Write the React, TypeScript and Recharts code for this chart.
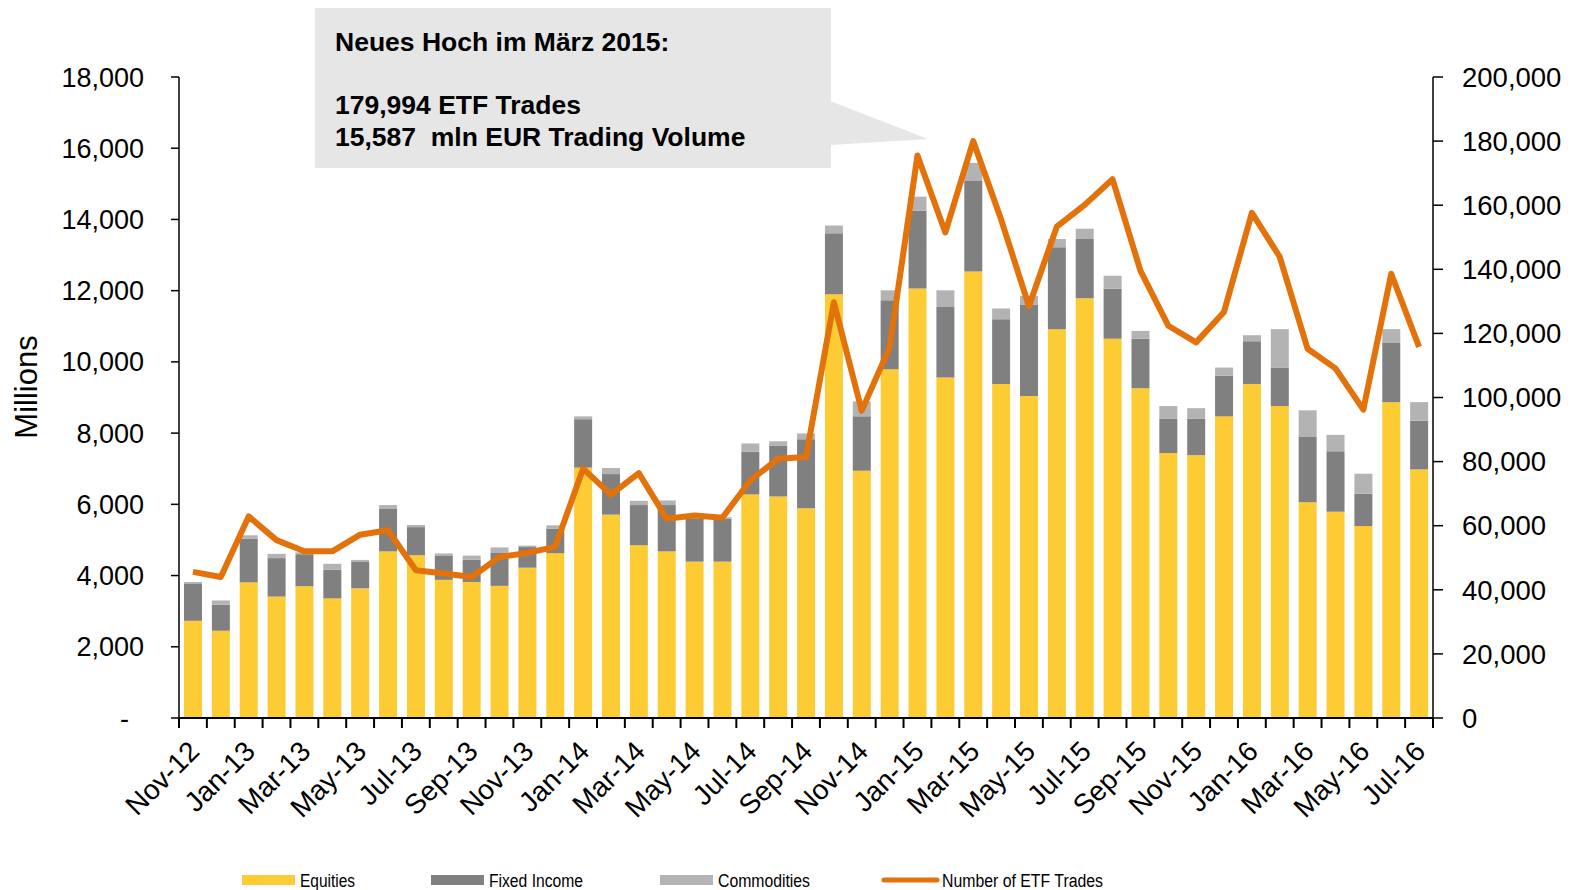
import { Bar, ComposedChart, Line, XAxis, YAxis } from "recharts"

const months = [
  "Nov-12", "Dec-12", "Jan-13", "Feb-13", "Mar-13", "Apr-13", "May-13", "Jun-13", "Jul-13", "Aug-13",
  "Sep-13", "Oct-13", "Nov-13", "Dec-13", "Jan-14", "Feb-14", "Mar-14", "Apr-14", "May-14", "Jun-14",
  "Jul-14", "Aug-14", "Sep-14", "Oct-14", "Nov-14", "Dec-14", "Jan-15", "Feb-15", "Mar-15", "Apr-15",
  "May-15", "Jun-15", "Jul-15", "Aug-15", "Sep-15", "Oct-15", "Nov-15", "Dec-15", "Jan-16", "Feb-16",
  "Mar-16", "Apr-16", "May-16", "Jun-16", "Jul-16",
]

// mln EUR
const equities = [
  2730, 2450, 3810, 3410, 3700, 3360, 3640, 4680, 4570, 3880,
  3820, 3710, 4220, 4630, 7030, 5710, 4850, 4680, 4390, 4390,
  6280, 6220, 5890, 11900, 6940, 9790, 12060, 9560, 12540, 9380,
  9040, 10920, 11790, 10650, 9260, 7440, 7380, 8470, 9380, 8760,
  6060, 5790, 5390, 8870, 6980,
]
const fixedIncome = [
  1050, 730, 1220, 1080, 900, 800, 740, 1190, 790, 670,
  620, 940, 580, 680, 1360, 1140, 1130, 1300, 1200, 1210,
  1200, 1430, 1940, 1710, 1530, 1940, 2180, 1980, 2540, 1820,
  2560, 2300, 1660, 1410, 1390, 960, 1020, 1140, 1200, 1070,
  1830, 1700, 910, 1660, 1370,
]
const commodities = [
  40, 120, 100, 120, 50, 170, 60, 110, 60, 70,
  120, 140, 40, 100, 80, 170, 120, 130, 50, 40,
  230, 120, 160, 220, 420, 280, 400, 470, 507, 300,
  250, 230, 290, 360, 220, 360, 300, 230, 170, 1090,
  750, 460, 560, 390, 520,
]
// number of ETF trades
const trades = [
  45600, 44000, 62900, 55500, 52000, 52000, 57200, 58600, 46100, 45100,
  44000, 50200, 51500, 53400, 77800, 69700, 76400, 62200, 63200, 62500,
  74100, 80900, 81400, 129700, 95900, 115600, 175500, 151500, 179994, 155600,
  128500, 153300, 160100, 168100, 139600, 122400, 117200, 126700, 157600, 143900,
  115200, 109100, 96200, 138600, 115800,
]

const volumeTicks = [0, 2000, 4000, 6000, 8000, 10000, 12000, 14000, 16000, 18000]
const tradeTicks = [0, 20000, 40000, 60000, 80000, 100000, 120000, 140000, 160000, 180000, 200000]

const calloutLines = ["Neues Hoch im März 2015:", "", "179,994 ETF Trades", "15,587\u00a0 mln EUR Trading Volume"]

const legendItems = [
  { name: "Equities", color: "#FDCB33", kind: "bar", x: 242, len: 55 },
  { name: "Fixed Income", color: "#808080", kind: "bar", x: 431, len: 94 },
  { name: "Commodities", color: "#B3B3B3", kind: "bar", x: 660, len: 92 },
  { name: "Number of ETF Trades", color: "#E3720B", kind: "line", x: 884, len: 161 },
]

const W = 1573
const H = 890
const PLOT_LEFT = 179
const PLOT_RIGHT = 1433
const FONT = "'Liberation Sans', Arial, sans-serif"

const data = months.map((month, i) => ({
  month,
  equities: equities[i],
  fixedIncome: fixedIncome[i],
  commodities: commodities[i],
  trades: trades[i],
}))

const band = (PLOT_RIGHT - PLOT_LEFT) / months.length
const fmt = (v: number) => v.toLocaleString("en-US")

function MonthTick(props: any) {
  const { x, y, payload, index } = props
  const lx = x + 8
  const ly = y + 35
  return (
    <g>
      <line x1={x - band / 2} x2={x - band / 2} y1={y} y2={y + 10} stroke="#000" strokeWidth={2} />
      {index === months.length - 1 && (
        <line x1={x + band / 2} x2={x + band / 2} y1={y} y2={y + 10} stroke="#000" strokeWidth={2} />
      )}
      {index % 2 === 0 && (
        <text
          x={lx}
          y={ly}
          transform={`rotate(-45 ${lx} ${ly})`}
          textAnchor="end"
          fontSize={28}
          fontFamily={FONT}
          fill="#000"
        >
          {payload.value}
        </text>
      )}
    </g>
  )
}

export default function App() {
  return (
    <div style={{ position: "absolute", left: 0, top: 0, width: W, height: H, background: "#fff", fontFamily: FONT }}>
      <ComposedChart width={W} height={H} data={data} margin={{ top: 77, right: 0, left: 0, bottom: 0 }} barSize={18}>
        <XAxis
          dataKey="month"
          height={172}
          interval={0}
          tickSize={0}
          tickMargin={0}
          tickLine={false}
          axisLine={{ stroke: "#000", strokeWidth: 2 }}
          tick={<MonthTick />}
        />
        <YAxis
          yAxisId="left"
          width={179}
          domain={[0, 18000]}
          ticks={volumeTicks}
          tickSize={8}
          tickMargin={27}
          axisLine={{ stroke: "#000", strokeWidth: 1.5 }}
          tickLine={{ stroke: "#000", strokeWidth: 1.5 }}
          tick={{ fill: "#000", fontSize: 27, fontFamily: FONT }}
          tickFormatter={(v: number) => (v === 0 ? "-\u00a0\u00a0" : fmt(v))}
          label={{
            content: () => (
              <text x={37} y={387} transform="rotate(-90 37 387)" textAnchor="middle" fontSize={31} fontFamily={FONT} fill="#000">
                Millions
              </text>
            ),
          }}
        />
        <YAxis
          yAxisId="right"
          orientation="right"
          width={140}
          domain={[0, 200000]}
          ticks={tradeTicks}
          tickSize={10}
          tickMargin={19}
          axisLine={{ stroke: "#000", strokeWidth: 1.5 }}
          tickLine={{ stroke: "#000", strokeWidth: 1.5 }}
          tick={{ fill: "#000", fontSize: 27.5, fontFamily: FONT, textAnchor: "start" }}
          tickFormatter={(v: number) => fmt(v)}
        />
        <Bar yAxisId="left" dataKey="equities" name="Equities" stackId="v" fill="#FDCB33" isAnimationActive={false} />
        <Bar yAxisId="left" dataKey="fixedIncome" name="Fixed Income" stackId="v" fill="#808080" isAnimationActive={false} />
        <Bar yAxisId="left" dataKey="commodities" name="Commodities" stackId="v" fill="#B3B3B3" isAnimationActive={false} />
        <Line
          yAxisId="right"
          dataKey="trades"
          name="Number of ETF Trades"
          type="linear"
          stroke="#E3720B"
          strokeWidth={6}
          strokeLinejoin="round"
          dot={false}
          activeDot={false}
          isAnimationActive={false}
        />
      </ComposedChart>

      <svg width={W} height={H} style={{ position: "absolute", left: 0, top: 0, pointerEvents: "none" }}>
        {/* callout */}
        <rect x={315} y={8} width={516} height={160} fill="#E6E6E6" />
        <polygon points="830,101 928,139 830,145" fill="#E6E6E6" />
        {calloutLines.map((t, i) =>
          t ? (
            <text key={i} x={335} y={51 + i * 31.7} fontSize={26.5} fontWeight="bold" fontFamily={FONT} fill="#000">
              {t}
            </text>
          ) : null
        )}

        {/* legend */}
        {legendItems.map((it) => (
          <g key={it.name}>
            {it.kind === "bar" ? (
              <rect x={it.x} y={875} width={53} height={10} fill={it.color} />
            ) : (
              <line x1={it.x} x2={it.x + 53} y1={880} y2={880} stroke={it.color} strokeWidth={5} strokeLinecap="round" />
            )}
            <text
              x={it.x + 58}
              y={887}
              fontSize={18}
              fontFamily={FONT}
              fill="#000"
              textLength={it.len}
              lengthAdjust="spacingAndGlyphs"
            >
              {it.name}
            </text>
          </g>
        ))}
      </svg>
    </div>
  )
}
